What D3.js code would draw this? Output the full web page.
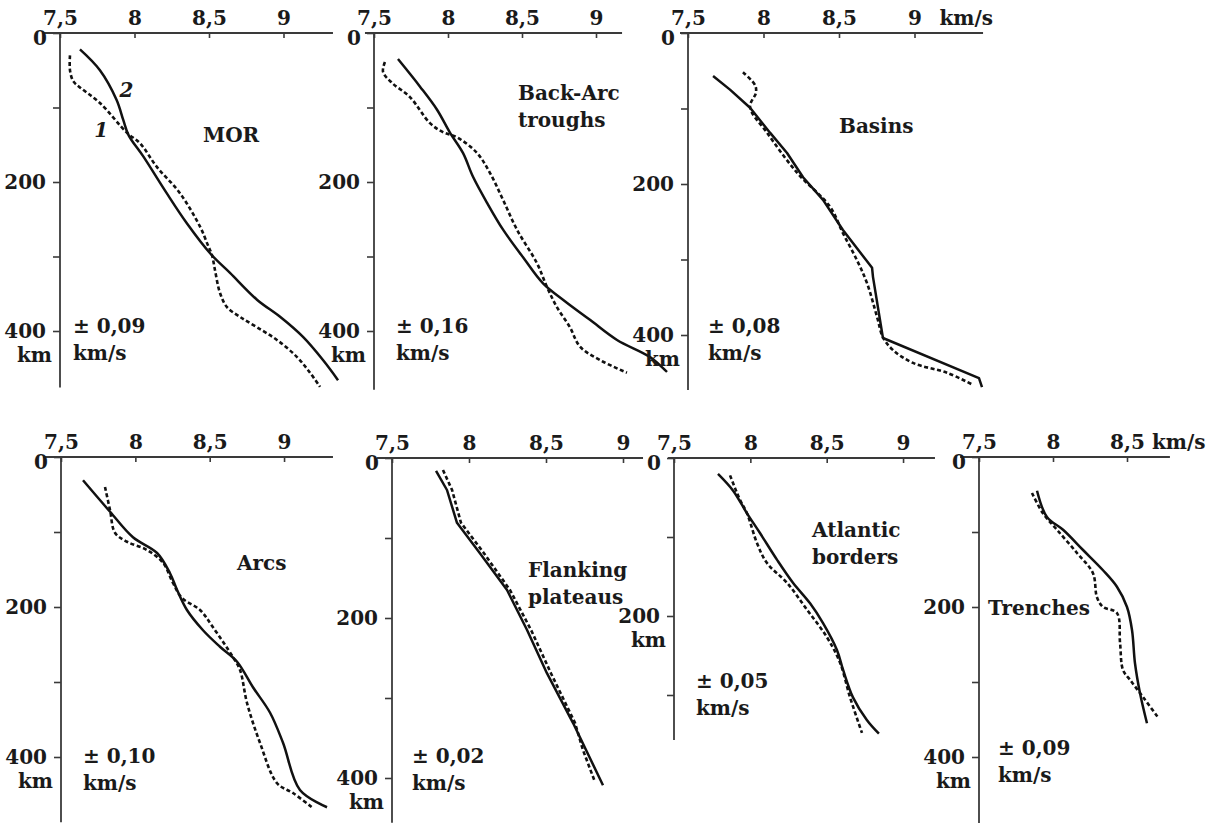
<!DOCTYPE html>
<html><head><meta charset="utf-8">
<script src="https://cdn.jsdelivr.net/npm/d3@7"></script>
<style>
html,body{margin:0;padding:0;background:#fff;}
svg{display:block;}
text{font-family:"DejaVu Serif",serif;font-weight:bold;fill:#1a1a1a;}
</style></head><body>
<svg id="c" width="1230" height="828"></svg>
<script>
// ---------------- DATA ----------------
const panelNames = [["MOR"],["Back-Arc","troughs"],["Basins"],["Arcs"],["Flanking","plateaus"],["Atlantic","borders"],["Trenches"]];
const errorLabels = ["± 0,09","± 0,16","± 0,08","± 0,10","± 0,02","± 0,05","± 0,09"];
const velocityTicks = [7.5, 8, 8.5, 9];
const velocityTickLabels = ["7,5", "8", "8,5", "9"];
const depthTicks = [0, 100, 200, 300, 400];
const depthTickLabels = ["0", "", "200", "", "400"];
// each series: [velocity km/s, depth km]; solid = curve 2, dashed = curve 1
const morSolid = [[7.634,22],[7.768,50],[7.88,90],[7.925,117],[7.96,137],[8.06,166],[8.216,215],[8.35,255],[8.513,297],[8.641,322],[8.822,358],[8.977,381],[9.131,408],[9.265,439],[9.366,466]];
const morDashed = [[7.567,30],[7.567,50],[7.59,65],[7.634,73],[7.768,94],[7.95,134],[8.037,148],[8.151,180],[8.305,215],[8.44,260],[8.493,285],[8.52,298],[8.54,318],[8.574,349],[8.621,368],[8.708,381],[8.822,395],[8.956,412],[9.091,435],[9.178,456],[9.245,475]];
const backArcSolid = [[7.662,35],[7.811,72],[7.926,103],[8.014,134],[8.101,161],[8.169,193],[8.264,228],[8.372,264],[8.507,301],[8.642,336],[8.79,360],[8.959,385],[9.142,412],[9.365,435],[9.48,455]];
const backArcDashed = [[7.574,39],[7.561,52],[7.622,67],[7.743,86],[7.878,121],[7.966,133],[8.061,140],[8.196,161],[8.284,188],[8.372,224],[8.466,264],[8.601,309],[8.669,341],[8.736,368],[8.824,395],[8.892,421],[9.027,439],[9.209,456]];
const basinsSolid = [[7.666,57],[7.778,75],[7.911,99],[8.043,132],[8.156,159],[8.262,191],[8.394,221],[8.526,261],[8.719,311],[8.725,323],[8.791,404],[9.427,457],[9.447,469]];
const basinsDashed = [[7.864,52],[7.944,69],[7.95,79],[7.911,98],[8.023,132],[8.222,185],[8.44,230],[8.526,265],[8.619,301],[8.685,331],[8.752,376],[8.791,403],[8.858,420],[8.99,437],[9.215,450],[9.387,466]];
const arcsSolid = [[7.648,31],[7.83,73],[7.984,107],[8.146,128],[8.233,155],[8.28,177],[8.347,204],[8.455,231],[8.569,253],[8.684,273],[8.791,307],[8.906,341],[8.993,381],[9.107,444],[9.289,467]];
const arcsDashed = [[7.796,40],[7.83,71],[7.863,101],[7.944,113],[8.078,124],[8.186,141],[8.253,168],[8.314,188],[8.435,204],[8.522,227],[8.657,267],[8.704,284],[8.751,328],[8.838,381],[8.953,435],[9.06,448],[9.188,467]];
const flankingSolid = [[7.786,16],[7.857,40],[7.922,81],[8.071,119],[8.247,165],[8.377,215],[8.506,269],[8.675,331],[8.87,409]];
const flankingDashed = [[7.831,15],[7.89,40],[7.948,81],[8.097,119],[8.266,165],[8.403,215],[8.532,269],[8.688,331],[8.74,365],[8.818,405]];
const atlanticSolid = [[7.788,20],[7.886,41],[7.978,70],[8.063,95],[8.175,129],[8.279,158],[8.391,184],[8.476,209],[8.567,243],[8.607,268],[8.672,303],[8.764,332],[8.842,349]];
const atlanticDashed = [[7.867,22],[7.932,53],[7.978,70],[8.044,108],[8.109,133],[8.24,158],[8.371,192],[8.502,227],[8.587,259],[8.653,303],[8.731,348]];
const trenchesSolid = [[7.892,45],[7.959,80],[8.068,97],[8.203,124],[8.338,151],[8.432,173],[8.5,200],[8.534,231],[8.554,275],[8.588,315],[8.635,355]];
const trenchesDashed = [[7.858,48],[7.932,75],[8.027,97],[8.162,128],[8.27,155],[8.297,187],[8.338,200],[8.432,208],[8.453,248],[8.473,284],[8.52,297],[8.608,320],[8.709,347]];

// ---------------- LAYOUT ----------------
const smooth = d3.curveCatmullRom.alpha(0.5), straight = d3.curveLinear;
const panels = [
  {solid: morSolid, dashed: morDashed, ox: 60, oy: 33, kx: 149, ky: 0.745, xExt: [7.386, 9.332], dMax: 476, vt: 4, dt: 5, kmAt: 400, kms: false, name: [143, 109], err: [13, 300], cs: smooth, cd: smooth},
  {solid: backArcSolid, dashed: backArcDashed, ox: 374, oy: 33, kx: 148, ky: 0.745, xExt: [7.439, 9.176], dMax: 479, vt: 4, dt: 5, kmAt: 400, kms: false, name: [144, 67], err: [22, 300], cs: smooth, cd: smooth},
  {solid: basinsSolid, dashed: basinsDashed, ox: 688, oy: 33, kx: 151, ky: 0.755, xExt: [7.447, 9.454], dMax: 473, vt: 4, dt: 5, kmAt: 400, kms: 9, name: [151, 100], err: [20, 300], cs: straight, cd: smooth},
  {solid: arcsSolid, dashed: arcsDashed, ox: 61, oy: 457, kx: 148.7, ky: 0.75, xExt: [7.379, 9.329], dMax: 487, vt: 4, dt: 5, kmAt: 400, kms: false, name: [176, 113], err: [22, 306], cs: smooth, cd: smooth},
  {solid: flankingSolid, dashed: flankingDashed, ox: 392, oy: 458, kx: 154, ky: 0.8, xExt: [7.403, 9.13], dMax: 456, vt: 4, dt: 5, kmAt: 400, kms: false, name: [136, 119], err: [20, 305], cs: straight, cd: straight},
  {solid: atlanticSolid, dashed: atlanticDashed, ox: 674, oy: 458, kx: 152.7, ky: 0.79, xExt: [7.461, 9.209], dMax: 357, vt: 4, dt: 4, kmAt: 200, kms: false, name: [138, 79], err: [22, 230], cs: smooth, cd: smooth},
  {solid: trenchesSolid, dashed: trenchesDashed, ox: 979, oy: 457, kx: 148, ky: 0.75, xExt: [7.372, 8.79], dMax: 488, vt: 3, dt: 5, kmAt: 400, kms: 8.5, name: [9, 158], err: [19, 298], cs: smooth, cd: smooth}
];

const svg = d3.select("#c");
const FS = 20;
const axisColor = "#3a3a3a";

panels.forEach((p, i) => {
  const x = d3.scaleLinear().domain([7.5, 9]).range([p.ox, p.ox + 1.5 * p.kx]);
  const y = d3.scaleLinear().domain([0, 400]).range([p.oy, p.oy + 400 * p.ky]);
  const g = svg.append("g");

  // x axis (top)
  const vt = velocityTicks.slice(0, p.vt);
  const xa = g.append("g").attr("transform", `translate(0,${p.oy})`)
    .call(d3.axisTop(x).tickValues(vt).tickFormat((d, j) => velocityTickLabels[j]).tickSizeInner(-5).tickSizeOuter(0).tickPadding(8));
  xa.select(".domain").remove();
  xa.selectAll("line").attr("stroke", axisColor).attr("stroke-width", 1.6);
  xa.selectAll("text").attr("font-size", FS).attr("fill", "#1a1a1a").attr("font-family", "DejaVu Serif").attr("font-weight", "bold");
  g.append("line").attr("x1", x(p.xExt[0])).attr("x2", x(p.xExt[1])).attr("y1", p.oy).attr("y2", p.oy)
    .attr("stroke", axisColor).attr("stroke-width", 1.8);

  // y axis (left)
  const dt = depthTicks.slice(0, p.dt);
  const ya = g.append("g").attr("transform", `translate(${p.ox},0)`)
    .call(d3.axisLeft(y).tickValues(dt).tickFormat((d, j) => depthTickLabels[j]).tickSizeInner(7).tickSizeOuter(0).tickPadding(7));
  ya.select(".domain").remove();
  ya.selectAll("line").attr("stroke", axisColor).attr("stroke-width", 1.6);
  ya.selectAll("text").attr("font-size", FS).attr("fill", "#1a1a1a").attr("font-family", "DejaVu Serif").attr("font-weight", "bold");
  ya.selectAll(".tick").filter(d => d === 0).select("text").attr("y", 5).attr("x", -13);
  g.append("line").attr("x1", p.ox).attr("x2", p.ox).attr("y1", y(0)).attr("y2", y(p.dMax))
    .attr("stroke", axisColor).attr("stroke-width", 1.8);

  // km under depth label
  g.append("text").attr("x", p.ox - 8).attr("y", y(p.kmAt) + 31).attr("text-anchor", "end").attr("font-size", FS).text("km");
  if (p.kms) {
    g.append("text").attr("x", x(p.kms) + 25).attr("y", p.oy - 8).attr("font-size", FS).text("km/s");
  }

  // curves
  const lineS = d3.line().x(d => x(d[0])).y(d => y(d[1])).curve(p.cs);
  const lineD = d3.line().x(d => x(d[0])).y(d => y(d[1])).curve(p.cd);
  g.append("path").attr("d", lineD(p.dashed)).attr("fill", "none").attr("stroke", "#111")
    .attr("stroke-width", 2.6).attr("stroke-dasharray", "4,2.6");
  g.append("path").attr("d", lineS(p.solid)).attr("fill", "none").attr("stroke", "#111")
    .attr("stroke-width", 2.5).attr("stroke-linejoin", "round");

  // panel name
  const nt = g.append("text").attr("x", p.ox + p.name[0]).attr("y", p.oy + p.name[1]).attr("font-size", FS);
  panelNames[i].forEach((s, k) => nt.append("tspan").attr("x", p.ox + p.name[0]).attr("dy", k === 0 ? 0 : 27).text(s));

  // error label
  const et = g.append("text").attr("x", p.ox + p.err[0]).attr("y", p.oy + p.err[1]).attr("font-size", FS);
  et.append("tspan").attr("x", p.ox + p.err[0]).text(errorLabels[i]);
  et.append("tspan").attr("x", p.ox + p.err[0]).attr("dy", 27).text("km/s");

  // curve numbers on MOR
  if (i === 0) {
    g.append("text").attr("x", x(7.9)).attr("y", y(86)).attr("font-size", FS).attr("font-style", "italic").text("2");
    g.append("text").attr("x", x(7.73)).attr("y", y(140)).attr("font-size", FS).attr("font-style", "italic").text("1");
  }
});
</script>
</body></html>
